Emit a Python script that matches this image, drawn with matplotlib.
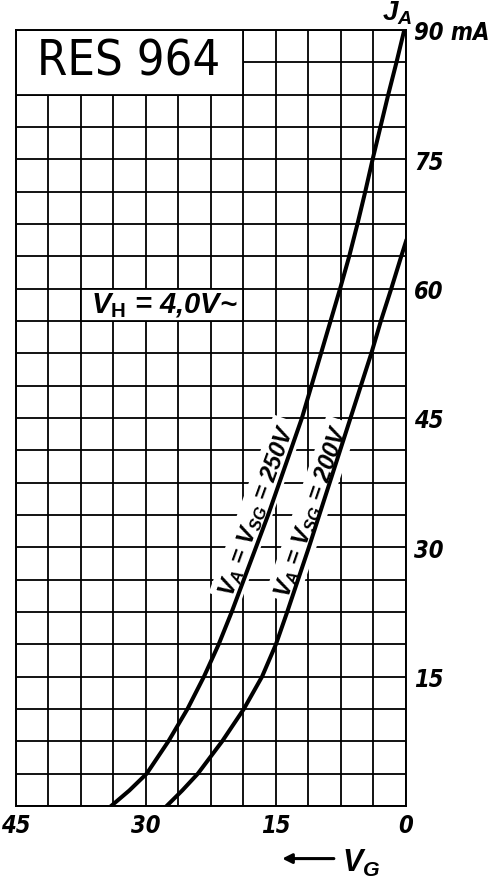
import matplotlib
matplotlib.use("Agg")
import matplotlib.pyplot as plt
import matplotlib.patches as mpatches
import numpy as np

plt.rcParams['mathtext.fontset'] = 'custom'
plt.rcParams['mathtext.it'] = 'Liberation Sans:italic:bold'
plt.rcParams['mathtext.rm'] = 'Liberation Sans:bold'
plt.rcParams['mathtext.bf'] = 'Liberation Sans:bold'

# anode current (mA) vs negative grid voltage (V)
ia_250 = [0, 1.8, 3.75, 7.5, 11.25, 15, 18.75, 22.5, 26.25, 30, 33.75, 37.5, 41.25,
          45, 48.75, 52.5, 56.25, 60, 63.75, 67.5, 71.25, 75, 78.75, 82.5, 86.25, 90]
vg_250 = [34.0, 31.9, 29.9, 27.4, 25.2, 23.3, 21.6, 20.1, 18.7, 17.3, 15.9, 14.6, 13.3,
          12.0, 10.9, 9.8, 8.7, 7.6, 6.55, 5.6, 4.7, 3.85, 2.95, 2.05, 1.1, 0.2]

ia_200 = [0, 1.8, 3.75, 7.5, 11.25, 15, 18.75, 22.5, 26.25, 30, 33.75, 37.5, 41.25,
          45, 48.75, 52.5, 56.25, 60, 63.75, 65.5]
vg_200 = [27.6, 25.8, 24.0, 21.2, 18.7, 16.6, 15.0, 13.7, 12.45, 11.2, 10.0, 8.8, 7.6,
          6.4, 5.2, 4.0, 2.9, 1.7, 0.55, 0.0]

x_labels = {0: "0", 15: "15", 30: "30", 45: "45"}
y_labels = {15: "15", 30: "30", 45: "45", 60: "60", 75: "75", 90: "90 mA"}

num_font = dict(family=['DejaVu Sans'], style='italic', stretch='condensed', weight='bold')

fig = plt.figure(figsize=(5.04, 8.87), dpi=100)
ax = fig.add_axes([0.0312, 0.0902, 0.7744, 0.8749])

step = 3.75
xt = np.arange(0, 45 + 0.01, step)
yt = np.arange(0, 90 + 0.01, step)
ax.set_xlim(45, 0)
ax.set_ylim(0, 90)
ax.set_xticks(xt)
ax.set_yticks(yt)
ax.set_xticklabels([x_labels.get(int(round(v)), "") if abs(v - round(v)) < 1e-6 else "" for v in xt],
                   fontdict=dict(size=17, **num_font))
ax.set_yticklabels([y_labels.get(int(round(v)), "") if abs(v - round(v)) < 1e-6 else "" for v in yt],
                   fontdict=dict(size=17, **num_font))
ax.yaxis.tick_right()
ax.tick_params(length=0)
ax.tick_params(axis='x', pad=5)
ax.tick_params(axis='y', pad=6)
for lbl in ax.get_yticklabels():
    lbl.set_horizontalalignment('left')

ax.set_axisbelow(True)
ax.grid(True, color='black', lw=1.3)
for s in ax.spines.values():
    s.set_linewidth(1.4)

# blank boxes for title and heater label
ax.add_patch(mpatches.Rectangle((18.75, 82.5), 26.25, 7.5, facecolor='white',
                                edgecolor='black', lw=1.3, zorder=1))
ax.add_patch(mpatches.Rectangle((18.75, 56.25), 18.75, 3.75, facecolor='white',
                                edgecolor='black', lw=1.3, zorder=1))

ax.text(32.0, 86.4, "RES 964", ha='center', va='center', fontsize=35,
        family=['DejaVu Sans'], stretch='condensed', zorder=4)
ax.text(36.3, 58.1, r"$V_{\mathrm{H}}$ = 4,0V~", ha='left', va='center', fontsize=21,
        family=['Liberation Sans', 'DejaVu Sans'], style='italic', weight='bold', zorder=4)

ax.plot(vg_250, ia_250, color='black', lw=2.9, zorder=3, solid_joinstyle='round')
ax.plot(vg_200, ia_200, color='black', lw=2.9, zorder=3, solid_joinstyle='round')

bb = dict(facecolor='white', edgecolor='none', pad=3)
ax.text(17.2, 34.4, r"$V_A$ = $V_{SG}$ = 250V", rotation=70, rotation_mode='anchor',
        ha='center', va='center', fontsize=17, family=['Liberation Sans', 'DejaVu Sans'],
        style='italic', weight='bold', bbox=bb, zorder=2)
ax.text(10.9, 34.3, r"$V_A$ = $V_{SG}$ = 200V", rotation=71, rotation_mode='anchor',
        ha='center', va='center', fontsize=17, family=['Liberation Sans', 'DejaVu Sans'],
        style='italic', weight='bold', bbox=bb, zorder=2)

ax.text(1.0, 92.0, r"$J_A$", ha='center', va='center', fontsize=20, clip_on=False,
        family=['Liberation Sans', 'DejaVu Sans'], zorder=4)

ax.annotate("", xy=(14.6, -6.1), xytext=(8.0, -6.1), annotation_clip=False,
            arrowprops=dict(arrowstyle='-|>', color='black', lw=2.2, mutation_scale=14))
ax.text(5.2, -6.6, r"$V_G$", ha='center', va='center', fontsize=22, clip_on=False,
        family=['Liberation Sans', 'DejaVu Sans'])

fig.savefig("out.png", dpi=100)
